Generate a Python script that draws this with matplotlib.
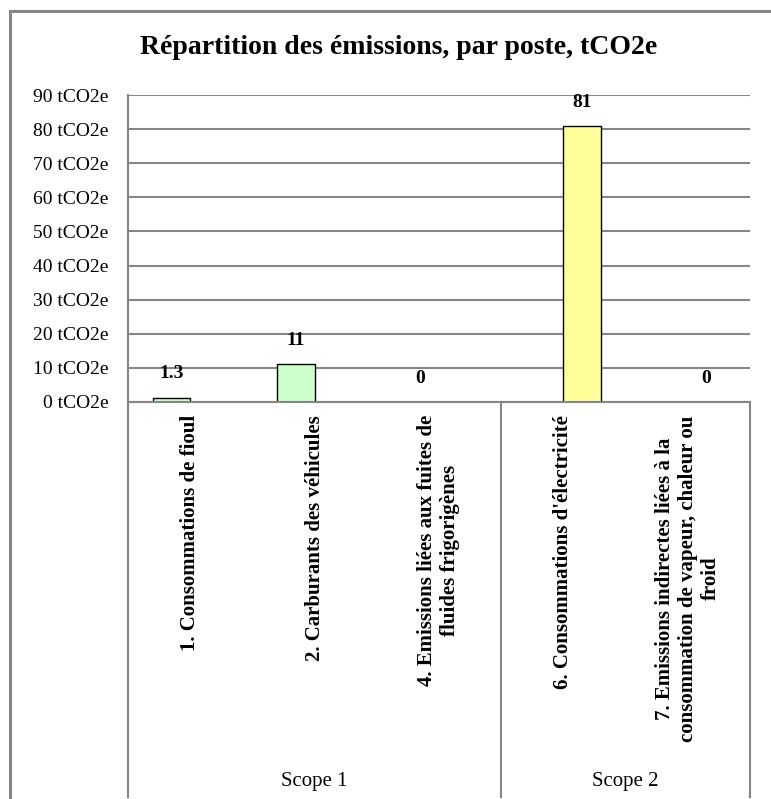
import numpy as np
import matplotlib.pyplot as plt
from matplotlib.patches import Rectangle

# data
postes = ["1. Consommations de fioul",
          "2. Carburants des véhicules",
          "4. Emissions liées aux fuites de\nfluides frigorigènes",
          "6. Consommations d'électricité",
          "7. Emissions indirectes liées à la\nconsommation de vapeur, chaleur ou\nfroid"]
scopes = ["Scope 1", "Scope 1", "Scope 1", "Scope 2", "Scope 2"]
valeurs = [1.3, 11, 0, 81, 0]
etiquettes = ["1.3", "11", "0", "81", "0"]
scope_noms = ["Scope 1", "Scope 2"]
scope_couleurs = {"Scope 1": "#CCFFCC", "Scope 2": "#FFFF99"}
yticks = np.arange(0, 100, 10)

W, H = 771, 799
gris = "#868686"
serif = ["Liberation Serif", "DejaVu Serif"]
plt.rcParams['font.family'] = serif

fig = plt.figure(figsize=(W / 100, H / 100), dpi=100)
x0, x1, y_top, y_zero = 128, 750, 95, 402
ax = fig.add_axes([x0 / W, 1 - y_zero / H, (x1 - x0) / W, (y_zero - y_top) / H])
ax.set_axisbelow(True)

# bars: two series (scope 1 left, scope 2 right) inside each category
x = np.arange(len(postes))
larg = 0.3
for i, (v, s) in enumerate(zip(valeurs, scopes)):
    dx = -larg / 2 if s == "Scope 1" else larg / 2
    ax.bar(x[i] + dx, v, width=larg, color=scope_couleurs[s],
           edgecolor="black", linewidth=1, zorder=2)
    ax.annotate(etiquettes[i], xy=(x[i] + dx, v), xytext=(0, 17),
                textcoords="offset points", ha="center", va="center",
                fontsize=14, fontweight="bold")

ax.set_xlim(-0.5, len(postes) - 0.5)
ax.set_ylim(0, 90)
ax.set_yticks(yticks)
ax.set_yticklabels([f"{v} tCO2e" for v in yticks], fontsize=14)
ax.tick_params(axis="y", length=0, pad=14)
ax.set_xticks([])
ax.grid(axis="y", color=gris, linewidth=1.5)
for sp in ["top", "right"]:
    ax.spines[sp].set_visible(False)
for sp in ["left", "bottom"]:
    ax.spines[sp].set_color(gris)
    ax.spines[sp].set_linewidth(1.5)

# category labels, rotated
for i, lab in enumerate(postes):
    ax.annotate(lab, xy=(x[i], 0), xycoords=("data", "axes fraction"),
                xytext=(0, -9.5), textcoords="offset points",
                rotation=90, ha="center", va="top", multialignment="center",
                fontsize=15, fontweight="bold", linespacing=1.2)

# scope group box and labels
bas = -(797 - y_zero) / (y_zero - y_top)
tr = ax.get_xaxis_transform()
bornes = [-0.5, 2.5, 4.5]
for b in bornes:
    ax.plot([b, b], [0, bas], color=gris, linewidth=1.5, transform=tr, clip_on=False)
for k, nom in enumerate(scope_noms):
    xc = (bornes[k] + bornes[k + 1]) / 2
    ax.text(xc, -(782 - y_zero) / (y_zero - y_top), nom, transform=tr,
            ha="center", va="center", fontsize=15)

fig.text(399 / W, 1 - 47 / H, "Répartition des émissions, par poste, tCO2e",
         ha="center", va="center", fontsize=20, fontweight="bold")

# outer chart border
fig.add_artist(Rectangle((9.5 / W, -0.1), 1.2, 1.1 - 11.5 / H, transform=fig.transFigure,
                         fill=False, edgecolor=gris, linewidth=2.2))

fig.savefig("out.png", dpi=100)
